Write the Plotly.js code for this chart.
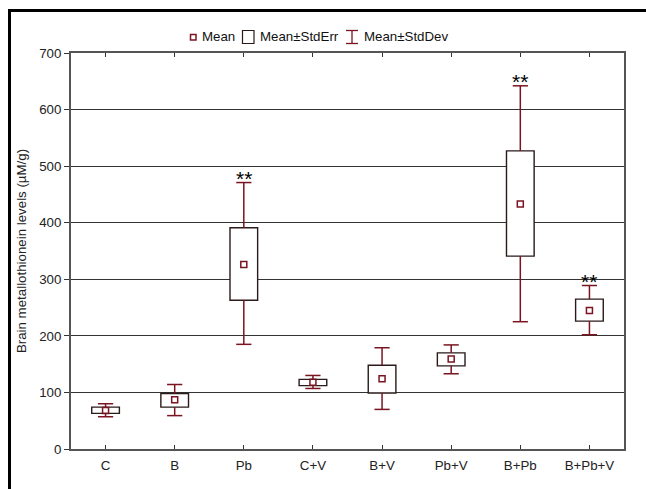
<!DOCTYPE html>
<html>
<head>
<meta charset="utf-8">
<script src="https://cdn.plot.ly/plotly-3.0.1.min.js"></script>
<style>
  html, body { margin: 0; padding: 0; background: #fff; }
  #wrap { position: relative; width: 646px; height: 489px; overflow: hidden; }
  #chart { width: 646px; height: 489px; }
  #frame { position: absolute; left: 8px; top: 9px; width: 700px; height: 600px;
           border-left: 3px solid #000; border-top: 3px solid #000; pointer-events: none; }
</style>
</head>
<body>
<div id="wrap">
  <div id="chart"></div>
  <div id="frame"></div>
</div>
<script>
// ---- data ----
const categories = ['C', 'B', 'Pb', 'C+V', 'B+V', 'Pb+V', 'B+Pb', 'B+Pb+V'];
const meanValues = [68, 87, 326, 118, 124, 159, 433, 245];
const stdErrLow  = [63, 74, 263, 112, 99, 147, 341, 226];
const stdErrHigh = [74, 98, 391, 123, 148, 170, 527, 265];
const stdDevLow  = [57, 59, 185, 107, 70, 133, 225, 202];
const stdDevHigh = [80, 114, 471, 130, 179, 184, 642, 289];
const significance = ['', '', '**', '', '', '', '**', '**'];
const yTicks = [0, 100, 200, 300, 400, 500, 600, 700];
const legendLabels = ['Mean', 'Mean\u00b1StdErr', 'Mean\u00b1StdDev'];

// ---- styles ----
const RED = '#7a1420';
const DARK = '#2a1a1a';
const FONT = 'Liberation Sans, Arial, sans-serif';
const FS = 13.3;
const BOX_W = 0.4;      // box width in category units
const CAP_HALF = 0.11;  // whisker cap half-width in category units

const W = 646, H = 489;
const M = {l: 71, r: 22, t: 53, b: 40};
const PW = W - M.l - M.r, PH = H - M.t - M.b;
const px = x => (x - M.l) / PW;
const py = y => (H - M.b - y) / PH;

const idx = categories.map((_, i) => i);

// whisker segments built from the data arrays
const wx = [], wy = [];
idx.forEach(i => {
  wx.push(i, i, null, i - CAP_HALF, i + CAP_HALF, null);
  wy.push(stdErrHigh[i], stdDevHigh[i], null, stdDevHigh[i], stdDevHigh[i], null);
  wx.push(i, i, null, i - CAP_HALF, i + CAP_HALF, null);
  wy.push(stdErrLow[i], stdDevLow[i], null, stdDevLow[i], stdDevLow[i], null);
});

const traces = [
  { // Mean ± StdErr box
    type: 'bar', x: idx, base: stdErrLow,
    y: idx.map(i => stdErrHigh[i] - stdErrLow[i]),
    width: BOX_W,
    marker: {color: '#ffffff', line: {color: DARK, width: 1.4}},
    hoverinfo: 'skip', showlegend: false
  },
  { // Mean ± StdDev whiskers
    type: 'scatter', mode: 'lines', x: wx, y: wy, connectgaps: false,
    line: {color: RED, width: 1.5},
    hoverinfo: 'skip', showlegend: false
  },
  { // Mean
    type: 'scatter', mode: 'markers', x: idx, y: meanValues,
    marker: {symbol: 'square-open', size: 6, color: RED, line: {color: RED, width: 1.5}},
    hoverinfo: 'skip', showlegend: false
  }
];

const annotations = [];
idx.forEach(i => {
  if (significance[i]) {
    annotations.push({
      x: i, y: stdDevHigh[i], xref: 'x', yref: 'y', text: significance[i],
      showarrow: false, yanchor: 'middle', yshift: 4,
      font: {family: FONT, size: 21, color: '#000'}
    });
  }
});

// manual legend
const legY = 37;
const legTextX = [200, 258, 362];
legendLabels.forEach((t, i) => {
  annotations.push({
    x: px(legTextX[i]), y: py(legY), xref: 'paper', yref: 'paper', text: t,
    showarrow: false, xanchor: 'left', yanchor: 'middle',
    font: {family: FONT, size: FS, color: '#111'}
  });
});

const shapes = [
  {type: 'rect', xref: 'paper', yref: 'paper', x0: px(190.5), x1: px(196), y0: py(34.5), y1: py(40),
   line: {color: RED, width: 1.5}},
  {type: 'rect', xref: 'paper', yref: 'paper', x0: px(242.5), x1: px(254), y0: py(30.5), y1: py(43.5),
   line: {color: DARK, width: 1.2}},
  {type: 'line', xref: 'paper', yref: 'paper', x0: px(352), x1: px(352), y0: py(30.5), y1: py(43.5),
   line: {color: RED, width: 1.3}},
  {type: 'line', xref: 'paper', yref: 'paper', x0: px(346), x1: px(358), y0: py(30.5), y1: py(30.5),
   line: {color: RED, width: 1.3}},
  {type: 'line', xref: 'paper', yref: 'paper', x0: px(346), x1: px(358), y0: py(43.5), y1: py(43.5),
   line: {color: RED, width: 1.3}}
];

const layout = {
  width: W, height: H,
  margin: M,
  paper_bgcolor: 'rgba(0,0,0,0)', plot_bgcolor: '#fff',
  font: {family: FONT, size: FS, color: '#222'},
  showlegend: false,
  xaxis: {
    range: [-0.5, categories.length - 0.5],
    tickvals: idx, ticktext: categories,
    showline: true, linecolor: '#555', linewidth: 2, mirror: 'ticks',
    ticks: 'inside', ticklen: 4, tickwidth: 1, tickcolor: '#333',
    showgrid: false, zeroline: false, ticklabelstandoff: 3,
    tickfont: {family: FONT, size: FS, color: '#222'}, fixedrange: true
  },
  yaxis: {
    range: [0, 700], tickvals: yTicks, ticktext: yTicks.map(String),
    showline: true, linecolor: '#555', linewidth: 2, mirror: true,
    ticks: 'outside', ticklen: 5, tickwidth: 1, tickcolor: '#333',
    showgrid: true, gridcolor: '#333', gridwidth: 1, zeroline: false,
    tickfont: {family: FONT, size: FS, color: '#222'},
    title: {text: 'Brain metallothionein levels (\u00b5M/g)', standoff: 9,
            font: {family: FONT, size: FS, color: '#222'}},
    fixedrange: true
  },
  annotations: annotations,
  shapes: shapes
};

Plotly.newPlot('chart', traces, layout, {staticPlot: true, displayModeBar: false});
</script>
</body>
</html>
